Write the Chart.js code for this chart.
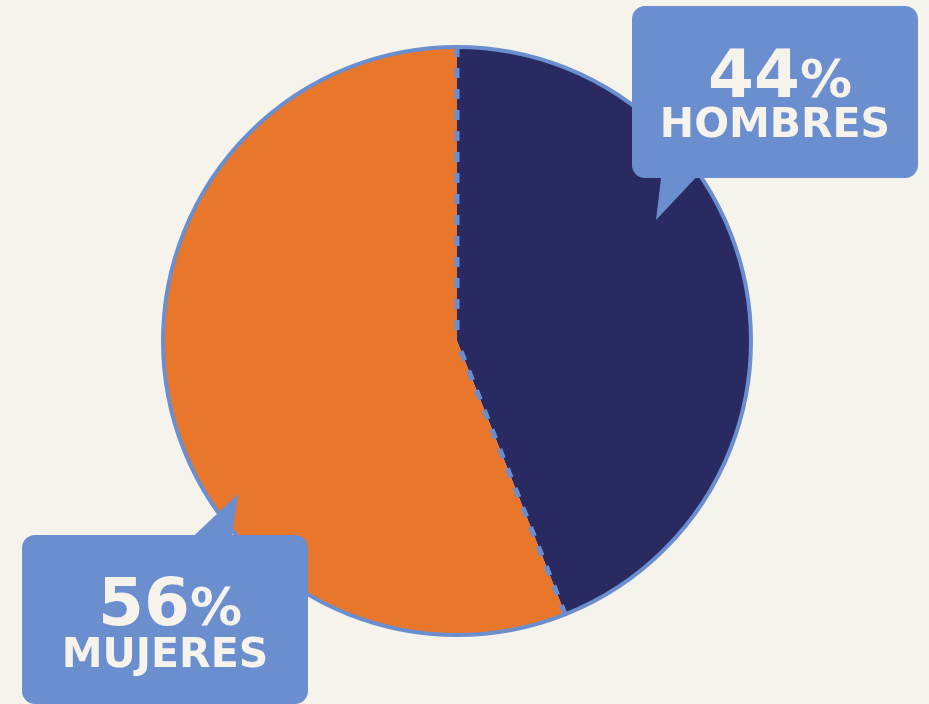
<!DOCTYPE html>
<html>
<head>
<meta charset="utf-8">
<script src="https://cdn.jsdelivr.net/npm/chart.js@4"></script>
<style>
  html, body { margin: 0; padding: 0; background: #f6f3ed; }
  #wrap { position: relative; width: 929px; height: 704px; overflow: hidden; }
  #pie { position: absolute; left: 0; top: 0; }
  .box { position: absolute; background: #6b8fce; border-radius: 13px; color: #f6f3ed;
         font-family: "DejaVu Sans", sans-serif; font-weight: bold; text-align: center; }
  .tip { position: absolute; left: 0; top: 0; width: 929px; height: 704px; background: #6b8fce; }
  .pct { position: absolute; left: 0; width: 100%; font-size: 66px; line-height: 66px; white-space: nowrap; box-sizing: border-box; }
  .pct span { font-size: 52px; }
  .lbl { position: absolute; left: 0; width: 100%; font-size: 41px; line-height: 41px; white-space: nowrap; }
</style>
</head>
<body>
<div id="wrap">
  <canvas id="pie" width="929" height="704"></canvas>
  <div class="tip" style="clip-path: polygon(662px 170px, 703px 170px, 656px 220px);"></div>
  <div class="tip" style="clip-path: polygon(184px 545px, 231px 545px, 238px 494px);"></div>
  <div class="box" id="boxH" style="left:632px; top:6px; width:286px; height:172px;"></div>
  <div class="box" id="boxM" style="left:22px; top:535px; width:286px; height:169px;"></div>
</div>
<script>
// data
const labels = ["HOMBRES", "MUJERES"];
const values = [44, 56];
const colors = ["#282a61", "#e8772c"];
const accent = "#6b8fce";

// callout texts
function fillBox(id, i, pctTop, lblTop, shift) {
  const box = document.getElementById(id);
  box.innerHTML = `<div class="pct" style="top:${pctTop}px; padding-left:${shift}px;">${values[i]}<span>%</span></div>
                   <div class="lbl" style="top:${lblTop}px;">${labels[i]}</div>`;
}
fillBox("boxH", 0, 36, 97, 10);
fillBox("boxM", 1, 35, 98, 10);

// ring + dashed dividers drawn from the arc elements
const decor = {
  id: "decor",
  afterDatasetsDraw(chart) {
    const ctx = chart.ctx;
    const arcs = chart.getDatasetMeta(0).data;
    const a0 = arcs[0].getProps(["x", "y", "outerRadius"], true);
    ctx.save();
    ctx.strokeStyle = accent;
    // dividers
    ctx.lineWidth = 5;
    ctx.setLineDash([10, 11]);
    arcs.forEach(function (arc) {
      const p = arc.getProps(["x", "y", "startAngle", "outerRadius"], true);
      ctx.beginPath();
      ctx.moveTo(p.x + Math.cos(p.startAngle) * p.outerRadius, p.y + Math.sin(p.startAngle) * p.outerRadius);
      ctx.lineTo(p.x, p.y);
      ctx.stroke();
    });
    // outer ring
    ctx.setLineDash([]);
    ctx.lineWidth = 4;
    ctx.beginPath();
    ctx.arc(a0.x, a0.y, a0.outerRadius, 0, Math.PI * 2);
    ctx.stroke();
    ctx.restore();
  }
};

new Chart(document.getElementById("pie"), {
  type: "pie",
  data: {
    labels: labels,
    datasets: [{
      data: values,
      backgroundColor: colors,
      borderWidth: 0,
      hoverOffset: 0
    }]
  },
  options: {
    responsive: false,
    animation: false,
    layout: { padding: { left: 163, top: 47, right: 178, bottom: 69 } },
    plugins: {
      legend: { display: false },
      tooltip: { enabled: false }
    }
  },
  plugins: [decor]
});
</script>
</body>
</html>
